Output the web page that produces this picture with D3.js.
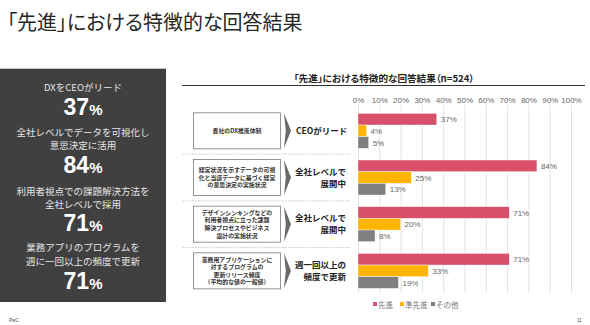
<!DOCTYPE html>
<html><head><meta charset="utf-8">
<script src="https://cdn.jsdelivr.net/npm/d3@7"></script>
<style>
body{margin:0;background:#fff;}
svg{display:block;font-family:"Noto Sans CJK JP","Noto Sans",sans-serif;}
.palt{font-feature-settings:"palt" 1;}
</style></head>
<body><svg id="c" width="590" height="325"></svg>
<script>
const groups = ["g1","g2","g3","g4"];
const series = ["先進","準先進","その他"];
const senshin = [37,84,71,71];
const junSenshin = [4,25,20,33];
const sonota = [5,13,8,19];
const ticks = [0,10,20,30,40,50,60,70,80,90,100];
const colors = ["#d9506b","#ffb400","#7f7f7f"];
const questionLines = [
  ["貴社のDX推進体制"],
  ["経営状況を示すデータの可視","化と当該データに基づく経営","の意思決定の実施状況"],
  ["デザインシンキングなどの","利用者視点に立った課題","解決プロセスやビジネス","設計の実施状況"],
  ["業務用アプリケーションに","対するプログラムの","更新リリース頻度","（平均的な値の一般値）"]
];
const answerLines = [["CEOがリード"],["全社レベルで","展開中"],["全社レベルで","展開中"],["週一回以上の","頻度で更新"]];
const panelItems = [
  {lines:["DXをCEOがリード"], value:37},
  {lines:["全社レベルでデータを可視化し","意思決定に活用"], value:84},
  {lines:["利用者視点での課題解決方法を","全社レベルで採用"], value:71},
  {lines:["業務アプリのプログラムを","週に一回以上の頻度で更新"], value:71}
];
const mainTitle = "「先進」における特徴的な回答結果";
const chartTitle = "「先進」における特徴的な回答結果（n=524）";

const svg = d3.select("#c");
const values = [senshin, junSenshin, sonota];

// main title
svg.append("text").attr("class","palt").attr("x",7).attr("y",29.5).attr("font-size",20).attr("fill","#262626").text(mainTitle);

// left panel
svg.append("rect").attr("x",0).attr("y",68).attr("width",166).attr("height",234).attr("fill","#404040");
svg.append("line").attr("x1",0).attr("x2",166).attr("y1",68.5).attr("y2",68.5).attr("stroke","#c8c8c8");
const panelY = [[91],[136,149],[195,208],[251,265]];
const numY = [115,173,231,289];
panelItems.forEach((it,i)=>{
  it.lines.forEach((l,j)=>{
    svg.append("text").attr("x",83).attr("y",panelY[i][j]).attr("text-anchor","middle")
      .attr("font-size",9.5).attr("fill","#e6e6e6").text(l);
  });
  const t = svg.append("text").attr("x",83).attr("y",numY[i]).attr("text-anchor","middle")
    .attr("fill","#fff").attr("font-family","Liberation Sans, Arial, sans-serif").attr("font-weight","bold");
  t.append("tspan").attr("font-size",23).text(it.value);
  t.append("tspan").attr("font-size",15).text("%");
});

// chart title
svg.append("text").attr("class","palt").attr("x",384).attr("y",82).attr("text-anchor","middle").attr("font-size",9.6)
  .attr("font-weight","bold").attr("fill","#222").text(chartTitle);
svg.append("line").attr("x1",182).attr("x2",585).attr("y1",85.5).attr("y2",85.5).attr("stroke","#333").attr("stroke-width",1);

const x = d3.scaleLinear().domain([0,100]).range([358,571]);
const y0 = d3.scaleBand().domain(groups).range([107.5,294.2]).paddingInner(0.25).paddingOuter(0.125);
const y1 = d3.scaleBand().domain(series).range([0,y0.bandwidth()]);

// gridlines
svg.append("g").selectAll("line").data(ticks).join("line")
  .attr("x1",d=>x(d)+0.5).attr("x2",d=>x(d)+0.5).attr("y1",105).attr("y2",293)
  .attr("stroke","#e3e3e3").attr("stroke-width",1);

// axis
const ax = svg.append("g").attr("transform","translate(0,103)")
  .call(d3.axisTop(x).tickValues(ticks).tickSize(0).tickPadding(0).tickFormat(d=>d+"%"));
ax.select(".domain").remove();
ax.selectAll("text").attr("font-size",8).attr("fill","#666").attr("font-family","Liberation Sans, Arial, sans-serif");

// bars
groups.forEach((g,gi)=>{
  const gg = svg.append("g").attr("transform",`translate(0,${y0(g)})`);
  series.forEach((s,si)=>{
    const v = values[si][gi];
    gg.append("rect").attr("x",x(0)).attr("y",y1(s)).attr("width",x(v)-x(0)).attr("height",y1.bandwidth())
      .attr("fill",colors[si]).attr("stroke","#fff").attr("stroke-width",0.4);
    gg.append("text").attr("x",x(v)+4).attr("y",y1(s)+y1.bandwidth()/2+3).attr("font-size",8)
      .attr("fill","#666").attr("font-family","Liberation Sans, Arial, sans-serif").text(v+"%");
  });
  const top = y0(g), bh = y0.bandwidth();
  // question box
  svg.append("rect").attr("x",193.5).attr("y",top-0.5).attr("width",87).attr("height",bh+1)
    .attr("fill","#fff").attr("stroke","#7a7a7a").attr("stroke-width",0.8);
  const ql = questionLines[gi];
  const lh = 7.6;
  const qy = top + bh/2 - (ql.length-1)*lh/2 + 2.1;
  ql.forEach((l,j)=>{
    svg.append("text").attr("x",237).attr("y",qy+j*lh).attr("text-anchor","middle").attr("font-size",5.9)
      .attr("font-weight","bold").attr("fill","#333").text(l);
  });
  // chevron
  svg.append("path").attr("d",`M284,${top} L291,${top+bh/2} L284,${top+bh} L285.8,${top+bh/2} Z`)
    .attr("fill","#6a6a6a");
  const al = answerLines[gi];
  const alh = 12;
  const ay = top + bh/2 - (al.length-1)*alh/2 + 3;
  al.forEach((l,j)=>{
    svg.append("text").attr("x",al.length===1?296:346).attr("y",ay+j*alh)
      .attr("text-anchor",al.length===1?"start":"end").attr("font-size",8.5)
      .attr("font-weight","bold").attr("fill","#222").text(l);
  });
  if(gi<groups.length-1){
    const sy = top + bh + (y0.step()-bh)/2;
    svg.append("line").attr("x1",183).attr("x2",350).attr("y1",sy).attr("y2",sy)
      .attr("stroke","#aaa").attr("stroke-width",0.7).attr("stroke-dasharray","1.5,1.5");
  }
});

// legend
const legX = [373,400,431];
series.forEach((s,i)=>{
  svg.append("rect").attr("x",legX[i]).attr("y",302).attr("width",4).attr("height",4).attr("fill",colors[i]);
  svg.append("text").attr("x",legX[i]+5).attr("y",307.5).attr("font-size",7.5).attr("fill","#777").text(s);
});

// footer
svg.append("text").attr("x",9).attr("y",322).attr("font-size",4.5).attr("fill","#444").attr("font-family","Liberation Sans, Arial, sans-serif").text("PwC");
svg.append("text").attr("x",577).attr("y",322).attr("font-size",4.5).attr("fill","#444").attr("font-family","Liberation Sans, Arial, sans-serif").text("11");
</script></body></html>
